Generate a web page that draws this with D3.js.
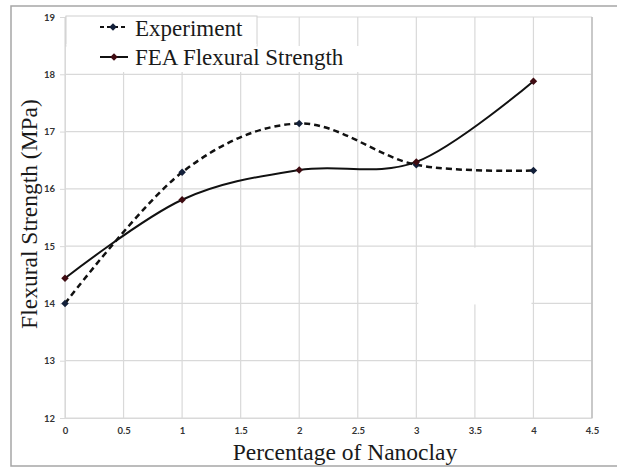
<!DOCTYPE html>
<html>
<head>
<meta charset="utf-8">
<script src="https://cdn.jsdelivr.net/npm/d3@7"></script>
<style>
  html, body { margin: 0; padding: 0; background: #fff; }
  svg { display: block; }
</style>
</head>
<body>
<svg id="chart" width="617" height="470"></svg>
<script>
const nanoclay = [0, 1, 2, 3, 4];
const experiment = [14.0, 16.29, 17.14, 16.42, 16.32];
const feaStrength = [14.44, 15.81, 16.33, 16.47, 17.88];
const xTicks = [0, 0.5, 1, 1.5, 2, 2.5, 3, 3.5, 4, 4.5];
const yTicks = [12, 13, 14, 15, 16, 17, 18, 19];
const seriesNames = ["Experiment", "FEA Flexural Strength"];

const svg = d3.select("#chart");
const plot = { left: 65, right: 592, top: 17, bottom: 418 };

// outer frame
svg.append("rect").attr("x", 11).attr("y", 6).attr("width", 620).attr("height", 460)
  .attr("fill", "#fff").attr("stroke", "#a6a6a6").attr("stroke-width", 1.5);

const x = d3.scaleLinear().domain([0, 4.5]).range([plot.left, plot.right]);
const y = d3.scaleLinear().domain([12, 19]).range([plot.bottom, plot.top]);

// gridlines
const grid = svg.append("g").attr("stroke", "#d9d9d9").attr("stroke-width", 1.2);
grid.selectAll("line.h").data(yTicks).join("line")
  .attr("x1", plot.left).attr("x2", plot.right)
  .attr("y1", d => y(d)).attr("y2", d => y(d));
grid.selectAll("line.v").data(xTicks).join("line")
  .attr("y1", plot.top).attr("y2", plot.bottom)
  .attr("x1", d => x(d)).attr("x2", d => x(d));

// white patch present in the source image
svg.append("rect").attr("x", x(3) + 2).attr("y", y(15) + 1.5)
  .attr("width", x(4) - x(3) - 4).attr("height", y(14) - y(15) - 0.5).attr("fill", "#fff");

// right edge darker
svg.append("line").attr("x1", plot.right).attr("x2", plot.right)
  .attr("y1", plot.top).attr("y2", plot.bottom).attr("stroke", "#bfbfbf").attr("stroke-width", 1.5);

// axes
const yAxis = svg.append("g").attr("transform", `translate(${plot.left},0)`)
  .call(d3.axisLeft(y).tickValues(yTicks).tickFormat(d3.format("d")).tickSize(5).tickPadding(5));
yAxis.select(".domain").attr("stroke", "#d9d9d9");
yAxis.selectAll(".tick line").attr("stroke", "#d9d9d9");
yAxis.selectAll("text").attr("font-family", "Lato, 'Open Sans', sans-serif")
  .attr("font-weight", "bold").attr("font-size", 9.5).attr("fill", "#333");

const xAxis = svg.append("g").attr("transform", `translate(0,${plot.bottom})`)
  .call(d3.axisBottom(x).tickValues(xTicks).tickFormat(d => String(d)).tickSize(0).tickPadding(9));
xAxis.select(".domain").attr("stroke", "#d9d9d9");
xAxis.selectAll("text").attr("font-family", "Lato, 'Open Sans', sans-serif")
  .attr("font-weight", "bold").attr("font-size", 9.5).attr("fill", "#333");

// axis titles
svg.append("text").attr("x", 345).attr("y", 460).attr("text-anchor", "middle")
  .attr("font-family", "'Liberation Serif', 'DejaVu Serif', serif").attr("font-size", 23.5)
  .attr("fill", "#1a1a1a").text("Percentage of Nanoclay");
svg.append("text").attr("transform", "translate(37,214) rotate(-90)").attr("text-anchor", "middle")
  .attr("font-family", "'Liberation Serif', 'DejaVu Serif', serif").attr("font-size", 23.5)
  .attr("fill", "#1a1a1a").text("Flexural Strength (MPa)");

// lines
const line = d3.line().x(d => x(d[0])).y(d => y(d[1])).curve(d3.curveCardinal.tension(0));
const expData = nanoclay.map((v, i) => [v, experiment[i]]);
const feaData = nanoclay.map((v, i) => [v, feaStrength[i]]);

svg.append("path").datum(expData).attr("d", line).attr("fill", "none")
  .attr("stroke", "#111").attr("stroke-width", 2.5).attr("stroke-dasharray", "6,4");
svg.append("path").datum(feaData).attr("d", line).attr("fill", "none")
  .attr("stroke", "#111").attr("stroke-width", 2);

const marker = d3.symbol().type(d3.symbolSquare).size(28);
svg.selectAll("path.m1").data(expData).join("path")
  .attr("transform", d => `translate(${x(d[0])},${y(d[1])}) rotate(45)`)
  .attr("d", marker).attr("fill", "#13203a");
svg.selectAll("path.m2").data(feaData).join("path")
  .attr("transform", d => `translate(${x(d[0])},${y(d[1])}) rotate(45)`)
  .attr("d", marker).attr("fill", "#3f0c12");

// legend
const lg = svg.append("g");
lg.append("rect").attr("x", plot.left + 1).attr("y", 46).attr("width", 294).attr("height", 26).attr("fill", "#fff");
lg.append("rect").attr("x", plot.left + 1).attr("y", 16).attr("width", 191).attr("height", 30)
  .attr("fill", "#fff").attr("stroke", "#d0d0d0").attr("stroke-width", 1);
lg.append("rect").attr("x", plot.left + 1.5).attr("y", 44).attr("width", 190).attr("height", 4).attr("fill", "#fff");

lg.append("line").attr("x1", 100).attr("x2", 127).attr("y1", 27).attr("y2", 27)
  .attr("stroke", "#111").attr("stroke-width", 2).attr("stroke-dasharray", "4,3");
lg.append("path").attr("transform", "translate(113,27) rotate(45)").attr("d", marker).attr("fill", "#13203a");
lg.append("line").attr("x1", 100).attr("x2", 128).attr("y1", 57).attr("y2", 57)
  .attr("stroke", "#111").attr("stroke-width", 2);
lg.append("path").attr("transform", "translate(114,57) rotate(45)").attr("d", marker).attr("fill", "#3f0c12");

lg.selectAll("text.lt").data(seriesNames).join("text")
  .attr("x", 135).attr("y", (d, i) => 36 + i * 29)
  .attr("font-family", "'Liberation Serif', 'DejaVu Serif', serif").attr("font-size", 23)
  .attr("fill", "#1a1a1a").text(d => d);
</script>
</body>
</html>
